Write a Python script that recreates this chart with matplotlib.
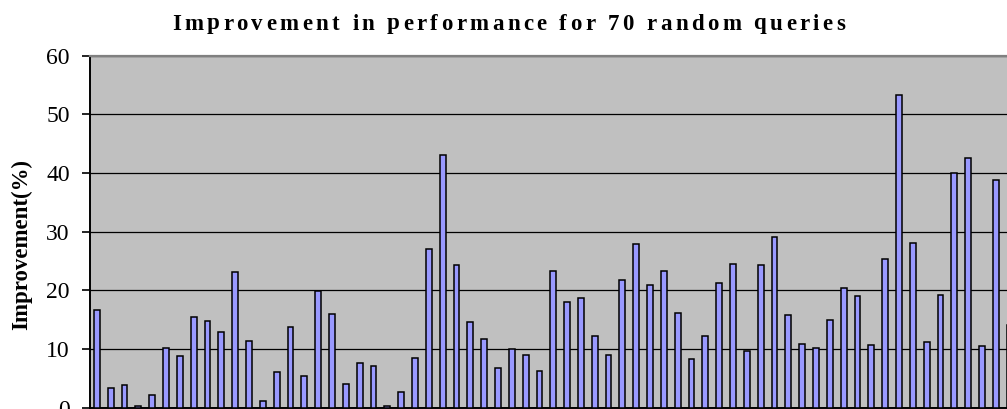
"""
Bar chart: improvement in performance for 70 random queries.
"""

import numpy as np
import matplotlib
matplotlib.use('Agg')
import matplotlib.pyplot as plt

TITLE = "Improvement in performance for 70 random queries"
YLABEL = "Improvement(%)"
N_QUERIES = 70

# values (the last 3 queries are cut off)
improvement = [16.6, 3.4, 3.9, 0.3, 2.2, 10.2, 8.8, 15.4, 14.8, 12.8,
               23.1, 11.4, 1.1, 6.1, 13.7, 5.4, 19.9, 15.9, 4.0, 7.6,
               7.1, 0.2, 2.7, 8.5, 27.0, 43.0, 24.3, 14.5, 11.7, 6.8,
               10.0, 8.9, 6.2, 23.3, 18.0, 18.7, 12.2, 8.9, 21.7, 27.8,
               20.9, 23.3, 16.1, 8.2, 12.2, 21.3, 24.5, 9.7, 24.3, 29.1,
               15.8, 10.8, 10.2, 14.9, 20.3, 19.0, 10.6, 25.3, 53.3, 28.0,
               11.1, 19.2, 40.0, 42.6, 10.5, 38.8, 14.1]
queries = np.arange(1, len(improvement) + 1)
yticks = [0, 10, 20, 30, 40, 50, 60]

W, H = 1007, 409
plt.rcParams['font.family'] = ['Liberation Serif', 'DejaVu Serif']


def draw_tracked(fig, text, x0, x1, y, **kw):
    """Draw text letter by letter so it spans x0..x1 pixels (wide tracking)."""
    r = fig.canvas.get_renderer()
    widths = []
    for ch in text:
        if ch == " ":
            a = fig.text(0, 0, "n n", **kw)
            b = fig.text(0, 0, "nn", **kw)
            w = a.get_window_extent(r).width - b.get_window_extent(r).width
            a.remove(); b.remove()
        else:
            t = fig.text(0, 0, ch, **kw)
            w = t.get_window_extent(r).width
            t.remove()
        widths.append(w)
    track = ((x1 - x0) - sum(widths)) / (len(text) - 1)
    x = x0
    for ch, w in zip(text, widths):
        if ch != " ":
            fig.text(x / W, y, ch, ha='left', va='baseline', **kw)
        x += w + track


fig = plt.figure(figsize=(W / 100, H / 100), dpi=100)
# plot area runs past the right edge of the picture, as in the original
ax = fig.add_axes([90 / W, 1.5 / H, 968 / W, 352 / H])
ax.set_facecolor("#c0c0c0")

ax.bar(queries, improvement, width=0.42, color="#9999ff",
       edgecolor="black", linewidth=1.1, zorder=3)

ax.set_xlim(0.5, N_QUERIES + 0.5)
ax.set_ylim(0, 60)
ax.set_yticks(yticks)
ax.yaxis.grid(True, color="black", linewidth=0.9)
ax.set_axisbelow(True)

ax.spines['top'].set_color("#808080")
ax.spines['top'].set_linewidth(1.6)
ax.spines['left'].set_linewidth(1.4)
ax.spines['bottom'].set_linewidth(1.4)
ax.spines['right'].set_visible(False)

ax.tick_params(axis='y', direction='out', length=6, width=1.2, pad=8.5,
               labelsize=17)
ax.tick_params(axis='x', bottom=False, labelbottom=False)

fig.text(22 / W, 1 - 245 / H, YLABEL, rotation=90, ha='center', va='center',
         fontsize=16.5, fontweight='bold')

draw_tracked(fig, TITLE, 172, 845, 1 - 29.5 / H,
             fontsize=16.5, fontweight='bold')

fig.savefig("out.png", dpi=100)
